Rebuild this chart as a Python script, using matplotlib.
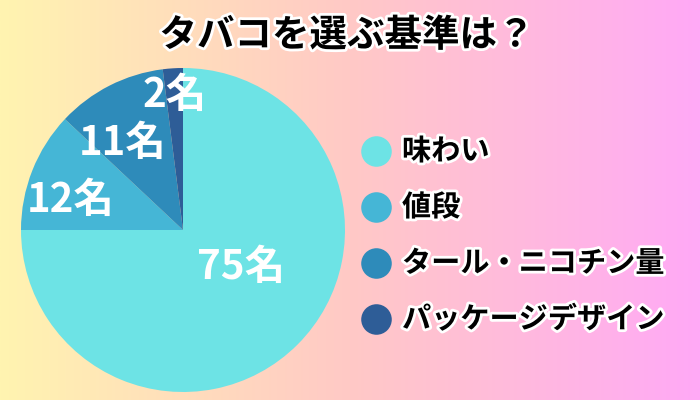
import numpy as np
import matplotlib
matplotlib.use("Agg")
import matplotlib.pyplot as plt
import matplotlib.patheffects as pe
from matplotlib.colors import LinearSegmentedColormap

plt.rcParams['font.family'] = ['Noto Sans CJK JP', 'DejaVu Sans']

# data
categories = ["味わい", "値段", "タール・ニコチン量", "パッケージデザイン"]
counts = [75, 12, 11, 2]
colors = ["#6DE3E5", "#45B6D6", "#2E8BBA", "#2E5D97"]
title = "タバコを選ぶ基準は？"

# label placement per slice (radius, angle shift in deg)
label_r = [0.43, 0.72, 0.65, 0.83]
label_shift = [12, 7, 8, 0]

fig = plt.figure(figsize=(7, 4), dpi=100)

# background gradient + legend layer in pixel coords
bg = fig.add_axes([0, 0, 1, 1])
bg.set_xlim(0, 700)
bg.set_ylim(400, 0)
bg.axis("off")
cmap = LinearSegmentedColormap.from_list("bg", ["#FFF4B0", "#FFC9C6", "#FFA9F6"])
grad = np.linspace(0, 1, 256).reshape(1, -1)
bg.imshow(grad, cmap=cmap, aspect="auto", extent=[0, 700, 400, 0], zorder=0)

stroke = [pe.withStroke(linewidth=4, foreground="white")]
bg.text(347, 35, title, ha="center", va="center", fontsize=27,
        fontweight="bold", color="black", path_effects=stroke, zorder=3)

for i, (name, c) in enumerate(zip(categories, colors)):
    y = 151 + i * 56
    bg.plot(376, y, "o", markersize=22, color=c, markeredgewidth=0, zorder=3)
    bg.text(402, y, name, ha="left", va="center", fontsize=21,
            fontweight="bold", color="black", path_effects=stroke, zorder=3)

# pie
ax = fig.add_axes([21 / 700, (400 - 230 - 162) / 400, 324 / 700, 324 / 400])
wedges, _ = ax.pie(counts, colors=colors, startangle=90, counterclock=False,
                   radius=1, wedgeprops=dict(linewidth=0))
ax.set_xlim(-1, 1)
ax.set_ylim(-1, 1)
ax.axis("off")

for w, n, r, s in zip(wedges, counts, label_r, label_shift):
    mid = np.deg2rad((w.theta1 + w.theta2) / 2 + s)
    ax.text(r * np.cos(mid), r * np.sin(mid), f"{n}名", ha="center", va="center",
            fontsize=29, fontweight="bold", color="white")

fig.savefig("out.png", dpi=100)
